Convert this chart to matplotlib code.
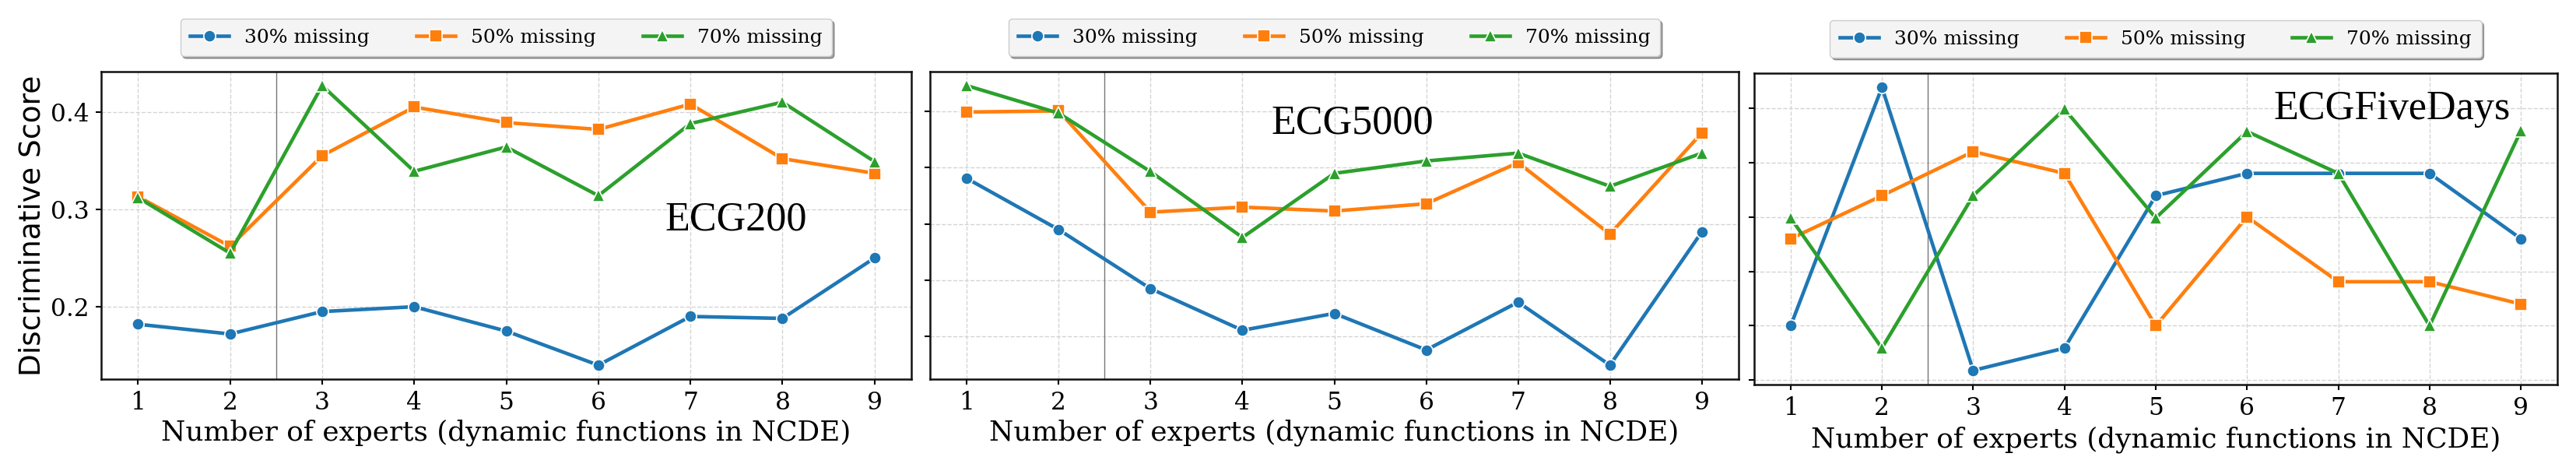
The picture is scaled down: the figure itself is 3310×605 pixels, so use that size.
import matplotlib
matplotlib.use("Agg")
import matplotlib.pyplot as plt
from matplotlib.ticker import MultipleLocator

# ---------------- data ----------------
experts = [1, 2, 3, 4, 5, 6, 7, 8, 9]
series_labels = ["30% missing", "50% missing", "70% missing"]
dataset_names = ["ECG200", "ECG5000", "ECGFiveDays"]

ecg200_30 = [0.182, 0.172, 0.195, 0.200, 0.175, 0.140, 0.190, 0.188, 0.250]
ecg200_50 = [0.313, 0.262, 0.355, 0.405, 0.389, 0.382, 0.408, 0.352, 0.337]
ecg200_70 = [0.312, 0.255, 0.427, 0.339, 0.364, 0.314, 0.388, 0.410, 0.349]

ecg5000_30 = [0.381, 0.290, 0.185, 0.111, 0.141, 0.076, 0.161, 0.049, 0.286]
ecg5000_50 = [0.499, 0.501, 0.321, 0.330, 0.323, 0.336, 0.409, 0.282, 0.462]
ecg5000_70 = [0.546, 0.497, 0.393, 0.276, 0.390, 0.412, 0.426, 0.367, 0.426]

ecg5d_30 = [0.100, 0.538, 0.018, 0.059, 0.339, 0.380, 0.380, 0.380, 0.260]
ecg5d_50 = [0.260, 0.339, 0.420, 0.380, 0.100, 0.300, 0.181, 0.181, 0.140]
ecg5d_70 = [0.298, 0.059, 0.339, 0.498, 0.298, 0.457, 0.380, 0.100, 0.458]

panels = [
    (ecg200_30, ecg200_50, ecg200_70),
    (ecg5000_30, ecg5000_50, ecg5000_70),
    (ecg5d_30, ecg5d_50, ecg5d_70),
]
# ---------------------------------------

colors = ["#1f77b4", "#ff7f0e", "#2ca02c"]
markers = ["o", "s", "^"]

plt.rcParams["font.family"] = ["DejaVu Serif"]

W, H = 3310, 605
fig = plt.figure(figsize=(W / 100, H / 100), dpi=100)
fig.patch.set_facecolor("white")

boxes = [(130, 1171, 92, 487), (1195, 2234, 92, 487), (2254, 3286, 94, 494)]
name_pos = [(7.5, 0.289), (5.2, 0.479), (7.59, 0.498)]
xlabel_pad = [4, 4, 5]

for i, (data, box) in enumerate(zip(panels, boxes)):
    l, r, t, b = box
    ax = fig.add_axes([l / W, 1 - b / H, (r - l) / W, (b - t) / H])
    for y, c, m, lab in zip(data, colors, markers, series_labels):
        ax.plot(experts, y, color=c, marker=m, lw=3.3, ms=11, mec="white",
                mew=1.2, label=lab, zorder=3)
    ax.axvline(2.5, color="#777777", lw=1.0, zorder=2)
    ax.set_xticks(experts)
    ax.yaxis.set_major_locator(MultipleLocator(0.1))
    ax.grid(True, ls="--", color="#d4d4d4", lw=1.0, zorder=0)
    for s in ax.spines.values():
        s.set_linewidth(1.8)
        s.set_color("#111111")
    ax.tick_params(axis="both", which="major", labelsize=22.5, length=5,
                   width=1.5, pad=6, direction="out")
    if i > 0:
        ax.tick_params(axis="y", labelleft=False)
    else:
        ax.set_ylabel("Discriminative Score", family="DejaVu Sans",
                      fontsize=27, labelpad=4)
    ax.set_xlabel("Number of experts (dynamic functions in NCDE)", fontsize=25.8,
                  labelpad=xlabel_pad[i])
    nx, ny = name_pos[i]
    ax.text(nx, ny, dataset_names[i], family="Liberation Serif", fontsize=37.5,
            ha="center", va="center", zorder=4)
    ax.legend(loc="lower center", bbox_to_anchor=(0.5, 1.05), ncol=3,
              fontsize=18, frameon=True, fancybox=True, shadow=True,
              facecolor="#f4f4f4", edgecolor="#cccccc", framealpha=1,
              handlelength=2.0, columnspacing=2.4, borderpad=0.5,
              borderaxespad=0.0, markerscale=1.0)

fig.savefig("out.png", dpi=100)
